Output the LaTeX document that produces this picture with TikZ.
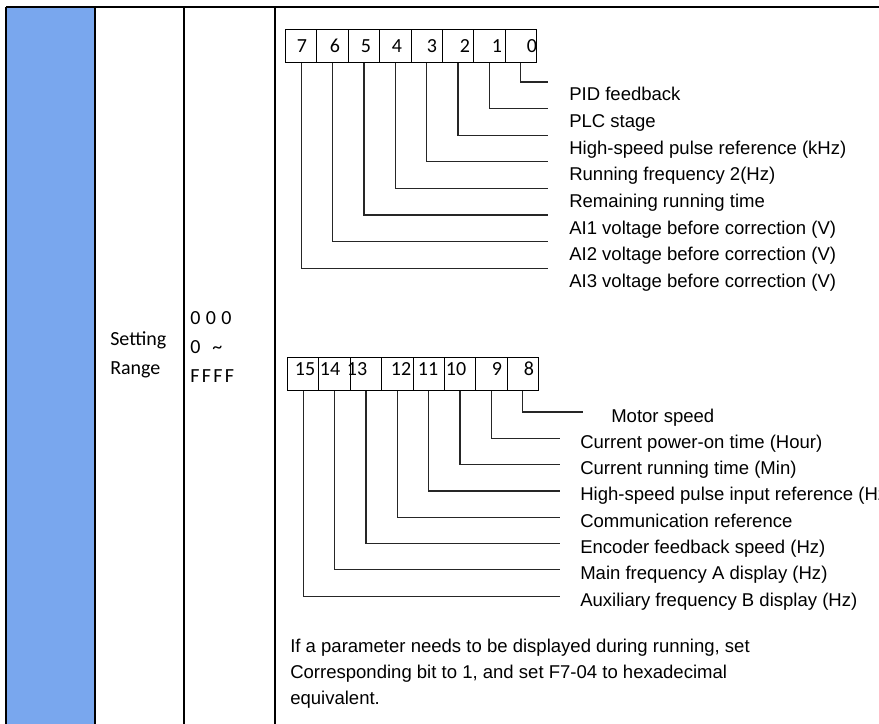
\documentclass[tikz,border=0pt]{standalone}
\usepackage{fontspec}
\setmainfont{Liberation Sans}
\newfontfamily\calibri{Carlito}
\usepackage{tikz}
\usetikzlibrary{positioning}
\definecolor{azulColuna}{RGB}{121,167,238}

\begin{document}
\begin{tikzpicture}[
    x=0.75pt, y=-0.75pt,
    bitcell/.style={draw, line width=0.8pt, minimum width=23.53pt, minimum height=24.75pt, inner sep=0pt, anchor=north west},
    bitnum/.style={font=\calibri\fontsize{15}{18}\selectfont, inner sep=0pt},
    bitlabel/.style={font=\fontsize{13.9}{16}\selectfont, anchor=base west, inner sep=0pt},
    wire/.style={line width=0.9pt, draw=black!85},
    grid/.style={line width=1.9pt},
    cellText/.style={font=\calibri\fontsize{15}{21.75}\selectfont, align=left, inner sep=0pt, anchor=west}
]
    \useasboundingbox (0,0) rectangle (879,724);
    \clip (0,0) rectangle (879,724);

    % table
    \fill[azulColuna] (6,7) rectangle (95,740);
    \draw[grid] (6,7) -- (890,7);
    \foreach \x in {6,95,184,275}
        \draw[grid] (\x,7) -- (\x,740);

    \node[cellText] (campo) at (110,355) {Setting\\Range};
    \node[cellText] (faixa) at (190,347)
        {{\addfontfeatures{LetterSpace=27}000}\\0\hspace{9pt}{\textasciitilde}\\{\addfontfeatures{LetterSpace=12}FFFF}};

    % bits 7..0
    \foreach \b [count=\i from 0] in {7,6,...,0}
        \node[bitcell] (c\b) at ({285+31.375*\i},29) {};
    \foreach \b/\x in {7/302, 6/335, 5/366, 4/397, 3/432, 2/465, 1/497, 0/532}
        \node[bitnum] (n\b) at (\x,46) {\b};

    \foreach \b/\txt in {0/PID feedback, 1/PLC stage, 2/High-speed pulse reference (kHz),
        3/Running frequency 2(Hz), 4/Remaining running time, 5/AI1 voltage before correction (V),
        6/AI2 voltage before correction (V), 7/AI3 voltage before correction (V)}{
        \coordinate (e\b) at (548,{82+26.6*\b});
        \draw[wire] (c\b.south) |- (e\b);
        \node[bitlabel] (t\b) at (569,{101+26.6*\b}) {\txt};
    }

    % bits 15..8
    \foreach \b [count=\i from 0] in {15,14,...,8}
        \node[bitcell] (q\b) at ({287+31.375*\i},357) {};
    \foreach \b/\x in {15/305, 14/330, 13/357, 12/401, 11/428, 10/456, 9/497, 8/529}
        \node[bitnum] (m\b) at (\x,369) {\b};

    \foreach \b/\ex/\tx/\txt in {8/583/611/Motor speed, 9/560/580/Current power-on time (Hour),
        10/560/580/Current running time (Min), 11/560/580/High-speed pulse input reference (Hz),
        12/560/580/Communication reference, 13/560/580/Encoder feedback speed (Hz),
        14/560/580/Main frequency A display (Hz), 15/560/580/Auxiliary frequency B display (Hz)}{
        \coordinate (f\b) at (\ex,{412+26.3*(\b-8)});
        \draw[wire] (q\b.south) |- (f\b);
        \node[bitlabel] (s\b) at (\tx,{422+26.3*(\b-8)}) {\txt};
    }

    \node[font=\fontsize{13.9}{19.5}\selectfont, align=left, inner sep=0pt, anchor=north west] (nota) at (290,639)
        {If a parameter needs to be displayed during running, set\\
         Corresponding bit to 1, and set F7-04 to hexadecimal\\
         equivalent.};
\end{tikzpicture}
\end{document}
